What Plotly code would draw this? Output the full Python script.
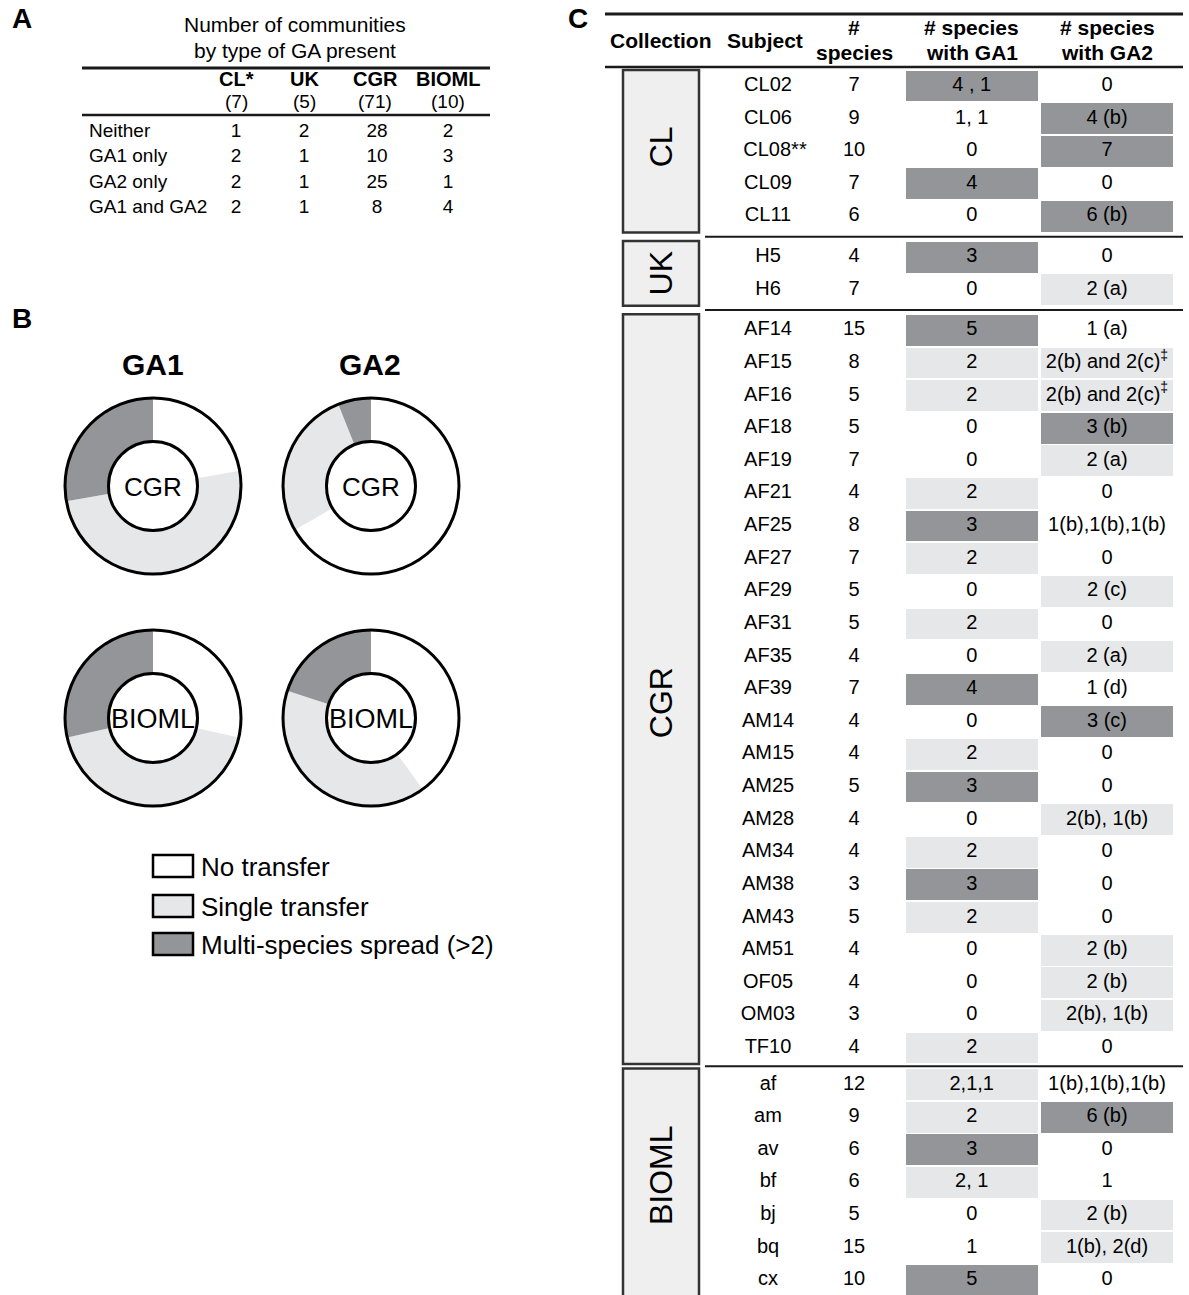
import plotly.graph_objects as go

W, H = 1189, 1295
FONT = "Liberation Sans, Arial, sans-serif"
BLACK = "#000000"
LIGHT = "#e6e7e8"
DARK = "#939598"
BOXFILL = "#efefef"

# ---------------- Panel A data ----------------
a_columns = ["CL*", "UK", "CGR", "BIOML"]
a_column_totals = [7, 5, 71, 10]
a_row_labels = ["Neither", "GA1 only", "GA2 only", "GA1 and GA2"]
a_neither = [1, 2, 28, 2]
a_ga1_only = [2, 1, 10, 3]
a_ga2_only = [2, 1, 25, 1]
a_both = [2, 1, 8, 4]

# ---------------- Panel B data ----------------
b_categories = ["No transfer", "Single transfer", "Multi-species spread (>2)"]
b_cgr_ga1 = [4, 9, 5]
b_cgr_ga2 = [22, 9, 2]
b_bioml_ga1 = [2, 3, 2]
b_bioml_ga2 = [2, 2, 1]

# ---------------- Panel C data ----------------
c_collections = ["CL", "UK", "CGR", "BIOML"]
c_collection = (["CL"] * 5 + ["UK"] * 2 + ["CGR"] * 23 + ["BIOML"] * 7)
c_subject = ["CL02", "CL06", "CL08**", "CL09", "CL11",
             "H5", "H6",
             "AF14", "AF15", "AF16", "AF18", "AF19", "AF21", "AF25", "AF27",
             "AF29", "AF31", "AF35", "AF39", "AM14", "AM15", "AM25", "AM28",
             "AM34", "AM38", "AM43", "AM51", "OF05", "OM03", "TF10",
             "af", "am", "av", "bf", "bj", "bq", "cx"]
c_species = [7, 9, 10, 7, 6,
             4, 7,
             15, 8, 5, 5, 7, 4, 8, 7, 5, 5, 4, 7, 4, 4, 5, 4, 4, 3, 5, 4, 4, 3, 4,
             12, 9, 6, 6, 5, 15, 10]
c_ga1 = ["4 , 1", "1, 1", "0", "4", "0",
         "3", "0",
         "5", "2", "2", "0", "0", "2", "3", "2", "0", "2", "0", "4", "0", "2",
         "3", "0", "2", "3", "2", "0", "0", "0", "2",
         "2,1,1", "2", "3", "2, 1", "0", "1", "5"]
# 0 = no transfer, 1 = single transfer, 2 = multi-species spread
c_ga1_class = [2, 0, 0, 2, 0,
               2, 0,
               2, 1, 1, 0, 0, 1, 2, 1, 0, 1, 0, 2, 0, 1, 2, 0, 1, 2, 1, 0, 0, 0, 1,
               1, 1, 2, 1, 0, 0, 2]
c_ga2 = ["0", "4 (b)", "7", "0", "6 (b)",
         "0", "2 (a)",
         "1 (a)", "2(b) and 2(c)<sup>‡</sup>", "2(b) and 2(c)<sup>‡</sup>",
         "3 (b)", "2 (a)", "0", "1(b),1(b),1(b)", "0", "2 (c)", "0", "2 (a)",
         "1 (d)", "3 (c)", "0", "0", "2(b), 1(b)", "0", "0", "0", "2 (b)",
         "2 (b)", "2(b), 1(b)", "0",
         "1(b),1(b),1(b)", "6 (b)", "0", "1", "2 (b)", "1(b), 2(d)", "0"]
c_ga2_class = [0, 2, 2, 0, 2,
               0, 1,
               0, 1, 1, 2, 1, 0, 0, 0, 1, 0, 1, 0, 2, 0, 0, 1, 0, 0, 0, 1, 1, 1, 0,
               0, 2, 0, 0, 1, 1, 0]

SHADES = {1: LIGHT, 2: DARK}

# ---------------- Layout helpers (pixel-unit axes) ----------------
def py(y):
    return 1 - y / H

fig = go.Figure()
shapes = []
annotations = []

def txt(x, y, s, size, bold=False, xanchor="center", angle=0):
    annotations.append(dict(
        x=x, y=y, xref="x", yref="y", text=f"<b>{s}</b>" if bold else s,
        showarrow=False, xanchor=xanchor, yanchor="middle", textangle=angle,
        borderpad=0,
        font=dict(family=FONT, size=size, color=BLACK)))

def hline(x0, x1, y, w=2, color="#1a1a1a"):
    shapes.append(dict(type="line", xref="x", yref="y", x0=x0, x1=x1, y0=y, y1=y,
                       line=dict(color=color, width=w)))

# ---------------- Panel A ----------------
txt(22, 18, "A", 28, bold=True)
txt(295, 24, "Number of communities", 21)
txt(295, 50, "by type of GA present", 21)
hline(82, 490, 68, 3)
hline(82, 490, 115, 2.5)
a_col_x = [236, 304, 375, 448]
for cx, name, tot in zip(a_col_x, a_columns, a_column_totals):
    txt(cx, 79, name, 20, bold=True)
    txt(cx, 101, f"({tot})", 19)

a_rows_y = [132, 157, 183, 208]
a_values = [a_neither, a_ga1_only, a_ga2_only, a_both]
fig.add_trace(go.Scatter(
    x=[89] * len(a_row_labels), y=a_rows_y, mode="text", text=a_row_labels,
    textposition="middle right", textfont=dict(family=FONT, size=19, color=BLACK),
    hoverinfo="skip", showlegend=False))
for j, cx in enumerate(a_col_x):
    fig.add_trace(go.Scatter(
        x=[cx + (2 if j == 2 else 0)] * len(a_values), y=a_rows_y, mode="text",
        text=[str(row[j]) for row in a_values], textposition="middle center",
        textfont=dict(family=FONT, size=19, color=BLACK),
        hoverinfo="skip", showlegend=False))

# ---------------- Panel B ----------------
txt(22, 318, "B", 28, bold=True)
txt(153, 364, "GA1", 30, bold=True)
txt(370, 364, "GA2", 30, bold=True)
R_OUT, R_IN = 88, 44.5
donuts = [(153, 486, b_cgr_ga1, "CGR"), (371, 486, b_cgr_ga2, "CGR"),
          (153, 718, b_bioml_ga1, "BIOML"), (371, 718, b_bioml_ga2, "BIOML")]
for cx, cy, vals, lab in donuts:
    fig.add_trace(go.Pie(
        values=vals, labels=b_categories, sort=False, direction="clockwise",
        rotation=0, hole=R_IN / R_OUT, textinfo="none", hoverinfo="skip",
        marker=dict(colors=["#ffffff", LIGHT, DARK], line=dict(width=0)),
        domain=dict(x=[(cx - R_OUT) / W, (cx + R_OUT) / W],
                    y=[py(cy + R_OUT), py(cy - R_OUT)]),
        showlegend=False))
    for r in (R_OUT, R_IN):
        shapes.append(dict(type="circle", xref="x", yref="y",
                           x0=cx - r, x1=cx + r, y0=cy - r, y1=cy + r,
                           line=dict(color=BLACK, width=3)))
    txt(cx, cy + 1, lab, 26 if lab == "CGR" else 27)

leg_y = [866, 906, 944]
for yy, col, lab in zip(leg_y, ["#ffffff", LIGHT, DARK], b_categories):
    shapes.append(dict(type="rect", xref="x", yref="y", x0=153, x1=193,
                       y0=yy - 11, y1=yy + 11, fillcolor=col,
                       line=dict(color=BLACK, width=2.5)))
    txt(200, yy + 1, lab, 26, xanchor="left")

# ---------------- Panel C ----------------
txt(578, 18, "C", 28, bold=True)
hline(605, 1183, 14, 3)
hline(605, 1183, 67, 2.5)
SUBJ_X, SPEC_X = 768, 854
GA1_X0, GA1_X1 = 906, 1037.5
GA2_X0, GA2_X1 = 1041, 1173
txt(661, 40, "Collection", 21, bold=True)
txt(765, 40, "Subject", 21, bold=True)
txt(SPEC_X, 27, "#", 21, bold=True)
txt(SPEC_X, 52, "species", 21, bold=True)
txt((GA1_X0 + GA1_X1) / 2, 27, "# species", 21, bold=True)
txt((GA1_X0 + GA1_X1) / 2, 52, "with GA1", 21, bold=True)
txt((GA2_X0 + GA2_X1) / 2, 27, "# species", 21, bold=True)
txt((GA2_X0 + GA2_X1) / 2, 52, "with GA2", 21, bold=True)

PITCH, Y0 = 32.62, 86
group_gap = [0, 8, 16, 20]
group_idx = [c_collections.index(g) for g in c_collection]
row_y = [Y0 + i * PITCH + group_gap[g] for i, g in enumerate(group_idx)]
CELL_H = 30.8

def cell_bars(x0, x1, classes):
    idx = [i for i, c in enumerate(classes) if c > 0]
    return go.Bar(orientation="h", y=[row_y[i] for i in idx],
                  x=[x1 - x0] * len(idx), base=x0, width=CELL_H,
                  marker=dict(color=[SHADES[classes[i]] for i in idx],
                              line=dict(width=0)),
                  hoverinfo="skip", showlegend=False)

fig.add_trace(cell_bars(GA1_X0, GA1_X1, c_ga1_class))
fig.add_trace(cell_bars(GA2_X0, GA2_X1, c_ga2_class))

# subject names whose footnote marks hang to the right stay aligned with the rest
subj_x = [SUBJ_X + (7 if s.endswith("**") else 0) for s in c_subject]
for xs, texts in [(subj_x, c_subject),
                  ([SPEC_X] * len(c_species), [str(v) for v in c_species]),
                  ([(GA1_X0 + GA1_X1) / 2] * len(c_ga1), c_ga1),
                  ([(GA2_X0 + GA2_X1) / 2] * len(c_ga2), c_ga2)]:
    fig.add_trace(go.Scatter(
        x=xs, y=row_y, mode="text", text=texts,
        textposition="middle center",
        textfont=dict(family=FONT, size=20, color=BLACK),
        hoverinfo="skip", showlegend=False))

# collection boxes and separators
label_shift = {"CL": -4, "UK": 0, "CGR": 14, "BIOML": 0}
for gi, g in enumerate(c_collections):
    ys = [row_y[i] for i, k in enumerate(group_idx) if k == gi]
    top, bot = ys[0] - 16, ys[-1] + 16
    if g == "BIOML":
        bot = 1310
    shapes.append(dict(type="rect", xref="x", yref="y", x0=623, x1=699,
                       y0=top, y1=bot, fillcolor=BOXFILL,
                       line=dict(color="#333333", width=2.5), layer="below"))
    ymid = (ys[0] + ys[-1]) / 2 + label_shift[g]
    if g == "BIOML":
        ymid = 1175
    txt(661, ymid, g, 32, angle=-90)
    if gi > 0:
        prev = [row_y[i] for i, k in enumerate(group_idx) if k == gi - 1][-1]
        hline(705, 1183, (prev + ys[0]) / 2, 2)

fig.update_layout(
    width=W, height=H, margin=dict(l=0, r=0, t=0, b=0),
    paper_bgcolor="white", plot_bgcolor="white",
    barmode="overlay", bargap=0,
    xaxis=dict(range=[0, W], domain=[0, 1], visible=False, fixedrange=True),
    yaxis=dict(range=[H, 0], domain=[0, 1], visible=False, fixedrange=True),
    shapes=shapes, annotations=annotations, showlegend=False,
)

fig.write_html("out.html", config={"displayModeBar": False},
               post_script="document.body.style.margin='0';document.body.style.overflow='hidden';")
